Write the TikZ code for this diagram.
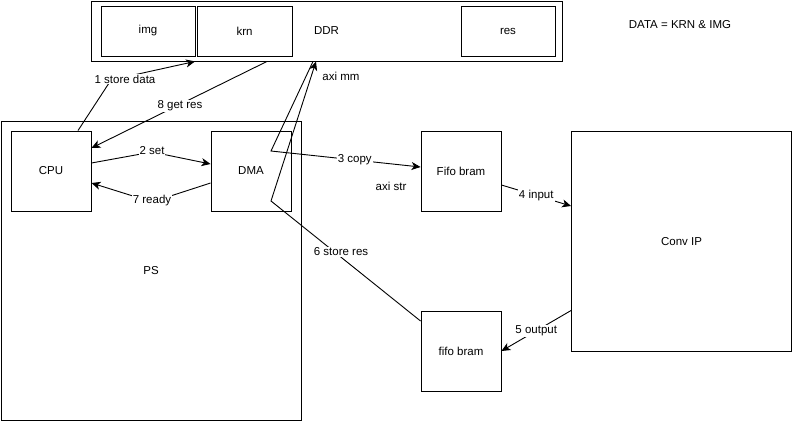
\documentclass[tikz,border=0pt]{standalone}
\usepackage{fontspec}
\setmainfont{Liberation Sans}
\usetikzlibrary{arrows.meta}

\begin{document}
\begin{tikzpicture}[x=1pt,y=-1pt,line width=0.9pt,
  every node/.style={font=\fontsize{11.5}{13}\selectfont},
  box/.style={draw,inner sep=0pt},
  lbl/.style={fill=white,inner sep=1pt},
  link/.style={-{Stealth[length=9pt,width=8pt,inset=2.5pt]}}]
%\draw [lightgray](0,0) grid [step=10pt] (794,424);
\useasboundingbox (0,0) rectangle (794,424);

\node [box,minimum width=471pt,minimum height=60pt] (ddr) at (326.5,31){DDR};
\node [box,minimum width=94pt,minimum height=50pt]  (img) at (148,31){img};
\node [box,minimum width=95pt,minimum height=50pt]  (krn) at (244.5,31){krn};
\node [box,minimum width=94pt,minimum height=50pt]  (res) at (508,31){res};
\node (data) at (680,25){DATA = KRN \& IMG};

\node [box,minimum width=300pt,minimum height=299pt] (ps) at (151,270.5){PS};
\node [box,minimum width=80pt,minimum height=80pt] (cpu) at (51,171){CPU};
\node [box,minimum width=80pt,minimum height=80pt] (dma) at (251,171){DMA};
\node [box,minimum width=80pt,minimum height=80pt] (fifoin) at (461,171){Fifo bram};
\node [box,minimum width=80pt,minimum height=80pt] (fifoout) at (461,351){fifo bram};
\node [box,minimum width=220pt,minimum height=220pt] (conv) at (681.5,241.5){Conv IP};

\coordinate (w1) at (111,80);
\coordinate (w2) at (152,152);
\coordinate (w7) at (152,202);
\coordinate (w3) at (271,151);
\coordinate (w6) at (271,201);

\draw [link] ([xshift=27pt]cpu.north) -- (w1) -- ([xshift=-131.5pt]ddr.south);
\draw [link] ([xshift=-59.5pt]ddr.south) -- ([yshift=23pt]cpu.east);
\draw [link] ([yshift=8pt]cpu.east) -- (w2) -- ([yshift=7pt]dma.west);
\draw [link] ([yshift=-12pt]dma.west) -- (w7) -- ([yshift=-12pt]cpu.east);
\draw [link] ([xshift=-13.5pt]ddr.south) -- (w3) -- ([yshift=4pt]fifoin.west)
  node [lbl,pos=0.56] (l3) {3 copy};
\draw [link] ([yshift=30pt]fifoout.west) -- (w6) -- ([xshift=-10.5pt]ddr.south);
\draw [link] ([yshift=-14pt]fifoin.east) -- ([yshift=35.5pt]conv.west)
  node [lbl,midway] (l4) {4 input};
\draw [link] ([yshift=-69pt]conv.west) -- (fifoout.east)
  node [lbl,midway] (l5) {5 output};

\node [lbl] (l1) at (125,79){1 store data};
\node [lbl] (l8) at (180,106){8 get res};
\node [lbl] (l2) at (152,151){2 set};
\node [lbl] (l7) at (152,201){7 ready};
\node [lbl] (l6) at (341,252){6 store res};
\node (axmm) at (341,76){axi mm};
\node (axstr) at (391,186){axi str};
\end{tikzpicture}
\end{document}
